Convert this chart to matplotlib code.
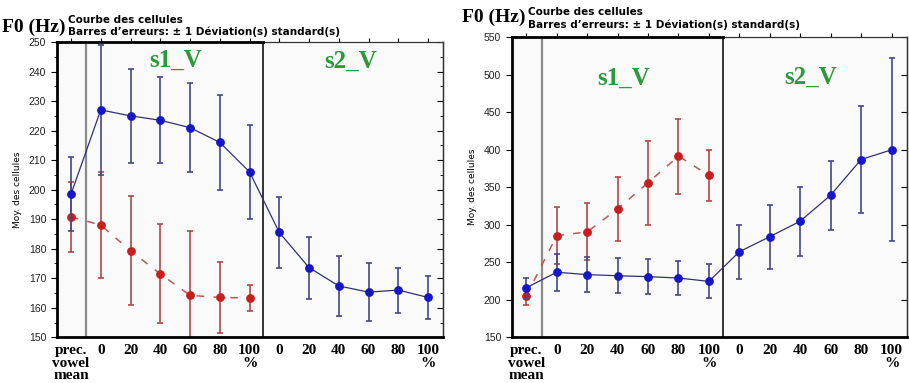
import numpy as np
import matplotlib.pyplot as plt
from matplotlib.ticker import MultipleLocator

# category labels shared by both panels
tick_labels = ['prec.\nvowel\nmean', '0', '20', '40', '60', '80', '100\n%',
               '0', '20', '40', '60', '80', '100\n%']

# left panel (y 150-250)
left_blue = [198.5, 227.0, 225.0, 223.5, 221.0, 216.0, 206.0,
             185.5, 173.6, 167.4, 165.3, 166.0, 163.5]
left_blue_sd = [12.5, 22.0, 16.0, 14.5, 15.0, 16.0, 16.0,
                12.0, 10.5, 10.2, 9.8, 7.6, 7.2]
left_red = [190.8, 188.0, 179.3, 171.5, 164.2, 163.5, 163.3]
left_red_sd = [11.8, 18.0, 18.5, 16.8, 21.8, 12.0, 4.3]

# right panel (y 150-550)
right_blue = [216.0, 236.7, 233.5, 232.0, 230.8, 229.0, 224.5,
              264.0, 284.0, 304.7, 339.3, 386.8, 399.7]
right_blue_sd = [13.0, 24.5, 23.0, 23.0, 23.0, 22.5, 22.5,
                 36.0, 42.5, 46.0, 46.0, 71.0, 122.0]
right_red = [205.0, 285.4, 290.4, 321.0, 355.9, 391.4, 365.6]
right_red_sd = [12.5, 37.5, 38.0, 43.0, 56.0, 50.0, 33.5]

BLUE = '#1616c8'
BLUE_ERR = '#46468a'
BLUE_LINE = '#30307a'
RED = '#c81e1e'
RED_ERR = '#b04848'
GREEN = '#2a9a3a'


def panel(ax, blue, blue_sd, red, red_sd, ylim, major, minor, s_pos):
    ax.set_facecolor('#fafafa')
    x_b = np.arange(len(blue))
    x_r = np.arange(len(red))
    ax.axvline(0.5, color='#8a8a8a', lw=1.6, zorder=1)
    ax.axvline(6.45, color='black', lw=1.1, zorder=1)
    ax.errorbar(x_r, red, yerr=red_sd, fmt='none', ecolor=RED_ERR,
                elinewidth=1.2, capsize=2.3, capthick=1.2, zorder=2)
    ax.plot(x_r, red, color='#c05656', lw=1.1, ls=(0, (5, 6)), zorder=2)
    ax.plot(x_r, red, 'o', color=RED, ms=5.3, zorder=3)
    ax.errorbar(x_b, blue, yerr=blue_sd, fmt='none', ecolor=BLUE_ERR,
                elinewidth=1.2, capsize=2.3, capthick=1.2, zorder=4)
    ax.plot(x_b, blue, color=BLUE_LINE, lw=0.9, zorder=4)
    ax.plot(x_b, blue, 'o', color=BLUE, ms=5.3, zorder=5)

    ax.set_xlim(-0.48, 12.5)
    ax.set_ylim(*ylim)
    ax.set_xticks(x_b)
    ax.set_xticklabels(tick_labels, family='Liberation Serif',
                       fontweight='bold', fontsize=11, linespacing=0.95,
                       va='top')
    ax.yaxis.set_major_locator(MultipleLocator(major))
    if minor:
        ax.yaxis.set_minor_locator(MultipleLocator(minor))
    ax.tick_params(axis='y', which='both', direction='out',
                   labelsize=7.5, labelcolor='#222222')
    ax.tick_params(axis='y', which='major', length=4)
    ax.tick_params(axis='y', which='minor', length=2.5)
    ax.tick_params(axis='x', bottom=False, top=True, length=3,
                   direction='out', pad=2)
    for lab in ax.get_yticklabels():
        lab.set_family('Liberation Sans')

    # inward ticks on the right edge
    sec = ax.secondary_yaxis('right')
    sec.yaxis.set_major_locator(MultipleLocator(major))
    if minor:
        sec.yaxis.set_minor_locator(MultipleLocator(minor))
    sec.tick_params(which='both', direction='in', labelright=False)
    sec.tick_params(which='major', length=4)
    sec.tick_params(which='minor', length=2.5)
    sec.spines['right'].set_linewidth(0.9)

    for side in ['left', 'bottom']:
        ax.spines[side].set_linewidth(2)
    for side in ['top', 'right']:
        ax.spines[side].set_linewidth(0.9)
        ax.spines[side].set_color('#333333')
    # heavier frame across the top of the s1 block
    ax.plot([-0.48, 6.45], [1, 1], color='black', lw=2,
            transform=ax.get_xaxis_transform(), clip_on=False, zorder=6)
    ax.set_ylabel('Moy. des cellules', fontsize=6.5, labelpad=5)

    for txt, (xx, yy) in zip(['s1_V', 's2_V'], s_pos):
        ax.text(xx, yy, txt, color=GREEN, family='Liberation Serif',
                fontweight='bold', fontsize=18, ha='center', va='center')


fig = plt.figure(figsize=(9.09, 3.83), dpi=100)
ax1 = fig.add_axes([0.0624, 0.1193, 0.4249, 0.771])
ax2 = fig.add_axes([0.5629, 0.1193, 0.4346, 0.7841])

panel(ax1, left_blue, left_blue_sd, left_red, left_red_sd, (150, 250),
      10, 5, [(3.5, 243.8), (9.4, 243.5)])
panel(ax2, right_blue, right_blue_sd, right_red, right_red_sd, (150, 550),
      50, None, [(3.2, 495), (9.35, 497)])

# headers: (x, F0 y, Courbe y, Barres y) in pixels
for x0, yf, yc, yb in [(2, 27, 20, 31.5), (462, 17, 12, 25)]:
    fig.text(x0 / 909, 1 - yf / 383, 'F0 (Hz)', family='Liberation Serif',
             fontweight='bold', fontsize=14, va='center')
    fig.text((x0 + 66) / 909, 1 - yc / 383, 'Courbe des cellules',
             fontweight='bold', fontsize=7.5, va='center')
    fig.text((x0 + 66) / 909, 1 - yb / 383,
             'Barres d\u2019erreurs: \u00b1 1 D\u00e9viation(s) standard(s)',
             fontweight='bold', fontsize=7.5, va='center')

fig.savefig('out.png', dpi=100)
